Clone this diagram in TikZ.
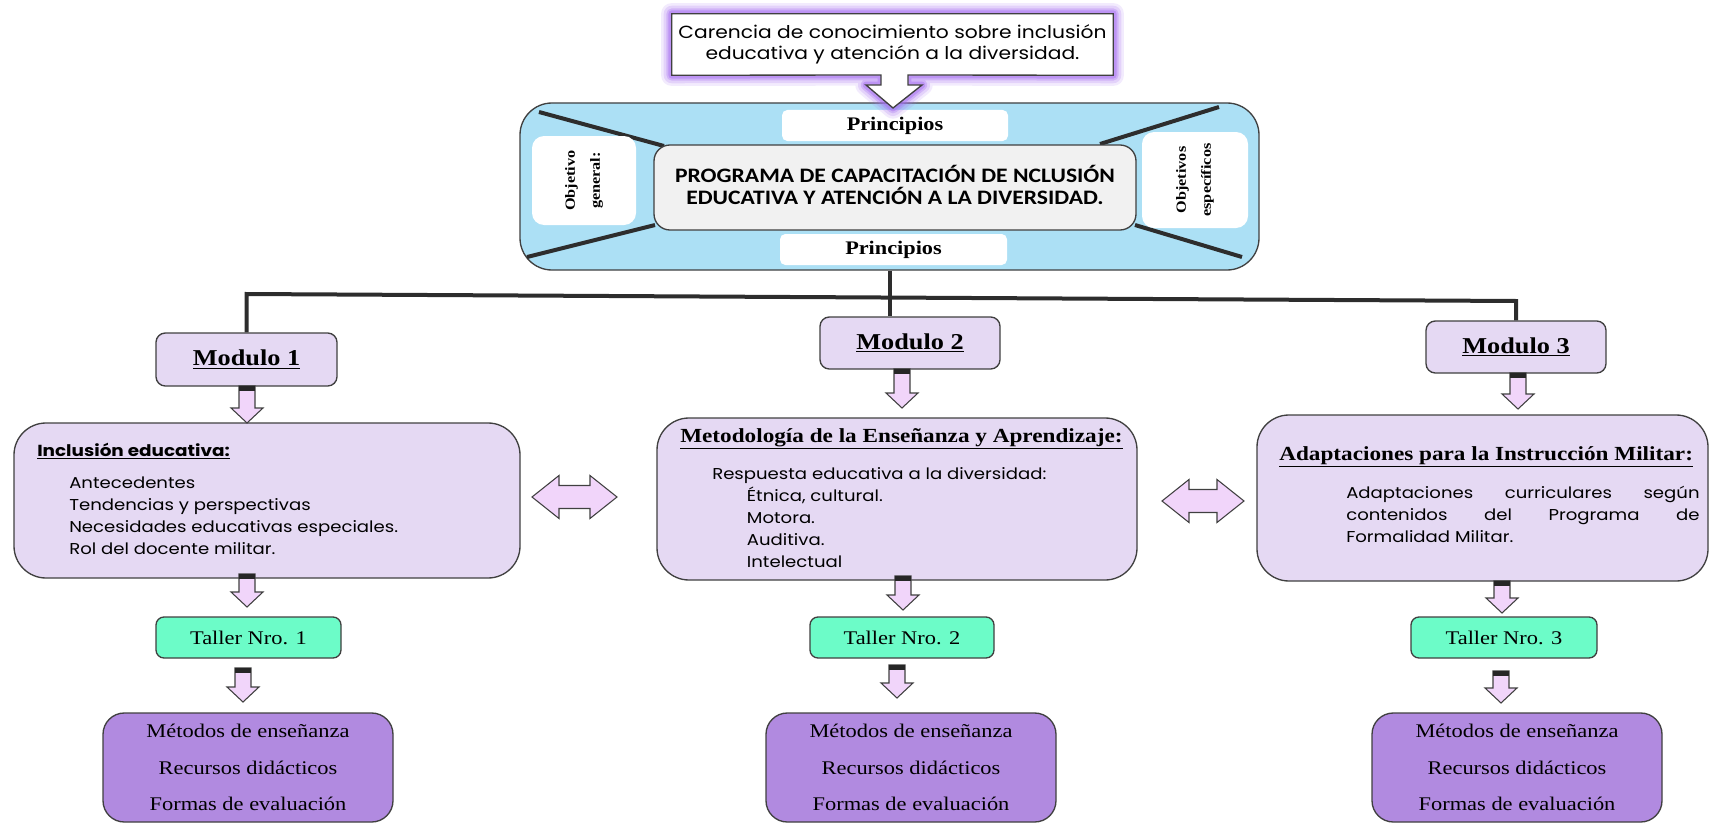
\documentclass[tikz,border=0pt]{standalone}
\usepackage{fontspec}
\setmainfont[FakeStretch=1.16]{Liberation Serif}
\newfontfamily\gotica[FakeStretch=1.15]{Poppins}
\newfontfamily\calibri[FakeStretch=1.15]{Carlito}
\usetikzlibrary{fit}

\definecolor{azulfondo}{RGB}{172,224,245}
\definecolor{grisprog}{RGB}{241,241,241}
\definecolor{lila}{RGB}{229,217,243}
\definecolor{rosaflecha}{RGB}{241,213,250}
\definecolor{menta}{RGB}{108,252,200}
\definecolor{morado}{RGB}{177,138,224}
\definecolor{brillo}{RGB}{165,110,240}
\definecolor{borde}{RGB}{64,64,64}

\tikzset{
  caja/.style={draw=borde, line width=1pt, inner sep=0pt},
  blanca/.style={fill=white, rounded corners=9pt, inner sep=0pt},
  modulo/.style={caja, fill=lila, rounded corners=7pt},
  bloque/.style={caja, fill=lila, rounded corners=24pt},
  taller/.style={caja, fill=menta, rounded corners=6pt},
  recursos/.style={caja, fill=morado, rounded corners=16pt},
  etiqueta/.style={inner sep=0pt, align=center},
  texto/.style={inner sep=0pt, align=left,
    font=\gotica\fontsize{11.8}{16.5}\selectfont},
  titulo/.style={inner sep=0pt, font=\fontsize{15}{17}\selectfont\bfseries},
  rama/.style={draw=borde!70!black, line width=3pt},
  flecha/.style={draw=borde, line width=0.8pt, fill=rosaflecha},
}

% block arrow pointing down: x, top, tip
\newcommand{\flechaabajo}[3]{%
  \draw[flecha] (#1-8,#2) -- (#1+8,#2) -- (#1+8,#3-15) -- (#1+16,#3-15)
    -- (#1,#3) -- (#1-16,#3-15) -- (#1-8,#3-15) -- cycle;
  \fill[black!85] (#1-8,#2) rectangle (#1+8,#2+5);}

% double arrow: left, right, middle
\newcommand{\flechadoble}[3]{%
  \draw[flecha] (#1,#3) -- (#1+27,#3-21.5) -- (#1+27,#3-11.5) -- (#2-27,#3-11.5)
    -- (#2-27,#3-21.5) -- (#2,#3) -- (#2-27,#3+21.5) -- (#2-27,#3+11.5)
    -- (#1+27,#3+11.5) -- (#1+27,#3+21.5) -- cycle;}

\begin{document}
\begin{tikzpicture}[x=0.75pt, y=-0.75pt]
\useasboundingbox (0,0) rectangle (1710,824);

% programa
\node[caja, fill=azulfondo, rounded corners=24pt, fit={(520,103) (1259,270)}] (programa) {};
\draw[rama] (539,112) -- (664,146);
\draw[rama] (527,257) -- (655,225);
\draw[rama] (1219,107) -- (1100,144);
\draw[rama] (1242,257) -- (1135,225);

\node[blanca, fit={(532,136) (636,225)}] (objgen) {};
\node[rotate=90, align=center, font=\bfseries\fontsize{10.5}{18.75}\selectfont] (objgentxt) at (objgen.center) {Objetivo\\general:};
\node[blanca, fit={(1142,132) (1248,228)}] (objesp) {};
\node[rotate=90, align=center, font=\bfseries\fontsize{10.5}{18.75}\selectfont] (objesptxt) at (objesp.center) {Objetivos\\específicos};

\node[blanca, rounded corners=4pt, fit={(782,110) (1008,141)}] (princarriba) {};
\node[etiqueta, font=\bfseries\fontsize{14.4}{16}\selectfont] (princarribatxt) at (princarriba) {Principios};
\node[blanca, rounded corners=4pt, fit={(780,234) (1007,265)}] (princabajo) {};
\node[etiqueta, font=\bfseries\fontsize{14.4}{16}\selectfont] (princabajotxt) at (princabajo) {Principios};

\node[caja, fill=grisprog, rounded corners=12pt, fit={(654,145) (1136,230)}] (prog) {};
\node[etiqueta, font=\calibri\bfseries\fontsize{15.4}{17}\selectfont] (progtxt) at ([yshift=2pt]prog.center)
  {PROGRAMA DE CAPACITACIÓN DE NCLUSIÓN\\EDUCATIVA Y ATENCIÓN A LA DIVERSIDAD.};

% carencia
\node[inner sep=0pt, fit={(672,14) (1113,75)}] (carencia) {};
\foreach \ancho/\op in {16/0.14, 12/0.2, 8/0.3, 5/0.45}
  \draw[brillo, line width=\ancho pt, opacity=\op, line join=round]
    (carencia.north west) -- (carencia.north east) -- (carencia.south east)
    -- (908,75) -- (908,85) -- (922,85) -- (893,108) -- (866,85) -- (881,85)
    -- (881,75) -- (carencia.south west) -- cycle;
\draw[caja, fill=white]
    (carencia.north west) -- (carencia.north east) -- (carencia.south east)
    -- (908,75) -- (908,85) -- (922,85) -- (893,108) -- (866,85) -- (881,85)
    -- (881,75) -- (carencia.south west) -- cycle;
\node[etiqueta, font=\gotica\fontsize{13.2}{15.75}\selectfont] (carenciatxt) at (carencia.center)
  {Carencia de conocimiento sobre inclusión\\educativa y atención a la diversidad.};

% modulos
\node[modulo, fit={(156,333) (337,386)}] (mod1) {};
\node[modulo, fit={(820,317) (1000,369)}] (mod2) {};
\node[modulo, fit={(1426,321) (1606,373)}] (mod3) {};
\foreach \m in {1,2,3}
  \node[etiqueta, font=\fontsize{17}{19}\selectfont\bfseries] (mod\m txt) at (mod\m) {\underline{Modulo \m}};

\coordinate (ramaizq) at (mod1.north |- 0,294);
\coordinate (ramader) at (mod3.north |- 0,301);
\draw[rama] (mod1.north) -- (ramaizq) -- (ramader) -- (mod3.north);
\draw[rama] (programa.south) -- (programa.south |- mod2.north);

% contenidos
\node[bloque, fit={(14,423) (520,578)}] (inclusion) {};
\node[inner sep=0pt, anchor=west, font=\gotica\fontsize{12}{14}\selectfont\bfseries] (inclusiontit) at (37,451)
  {\underline{Inclusión educativa:}};
\node[texto, anchor=north west] (inclusiontxt) at (69,477)
  {Antecedentes\\Tendencias y perspectivas\\Necesidades educativas especiales.\\Rol del docente militar.};

\node[bloque, fit={(657,418) (1137,580)}] (metodologia) {};
\node[titulo, anchor=west] (metodologiatit) at (680,439) {\underline{Metodología de la Enseñanza y Aprendizaje:}};
\node[texto, anchor=north west] (metodologiatxt) at (712,467)
  {Respuesta educativa a la diversidad:\\\hspace*{26pt}Étnica, cultural.\\\hspace*{26pt}Motora.\\
   \hspace*{26pt}Auditiva.\\\hspace*{26pt}Intelectual};

\node[bloque, fit={(1257,415) (1708,581)}] (adaptaciones) {};
\node[titulo, anchor=west] (adaptacionestit) at (1279,457) {\underline{Adaptaciones para la Instrucción Militar:}};
\node[texto, anchor=north west] (adaptacionestxt) at (1346,486)
  {\makebox[265pt][s]{Adaptaciones curriculares según}\\\makebox[265pt][s]{contenidos del Programa de}\\Formalidad Militar.};

\flechadoble{532}{617}{497}
\flechadoble{1162}{1244}{501}

% flechas
\flechaabajo{247}{386}{423}
\flechaabajo{902}{369}{408}
\flechaabajo{1518}{373}{409}
\flechaabajo{247}{574}{607}
\flechaabajo{903}{576}{610}
\flechaabajo{1502}{581}{613}
\flechaabajo{243}{668}{702}
\flechaabajo{897}{665}{698}
\flechaabajo{1501}{671}{703}

% talleres y recursos
\node[taller, fit={(156,617) (341,658)}] (taller1) {};
\node[taller, fit={(810,617) (994,658)}] (taller2) {};
\node[taller, fit={(1411,617) (1597,658)}] (taller3) {};
\node[recursos, fit={(103,713) (393,822)}] (recursos1) {};
\node[recursos, fit={(766,713) (1056,822)}] (recursos2) {};
\node[recursos, fit={(1372,713) (1662,822)}] (recursos3) {};
\foreach \t in {1,2,3} {
  \node[etiqueta, font=\fontsize{14.5}{17}\selectfont] (taller\t txt) at (taller\t) {Taller Nro. \t};
  \node[etiqueta, font=\fontsize{14.5}{27.5}\selectfont] (recursos\t txt) at (recursos\t)
    {Métodos de enseñanza\\Recursos didácticos\\Formas de evaluación};
}
\end{tikzpicture}
\end{document}
